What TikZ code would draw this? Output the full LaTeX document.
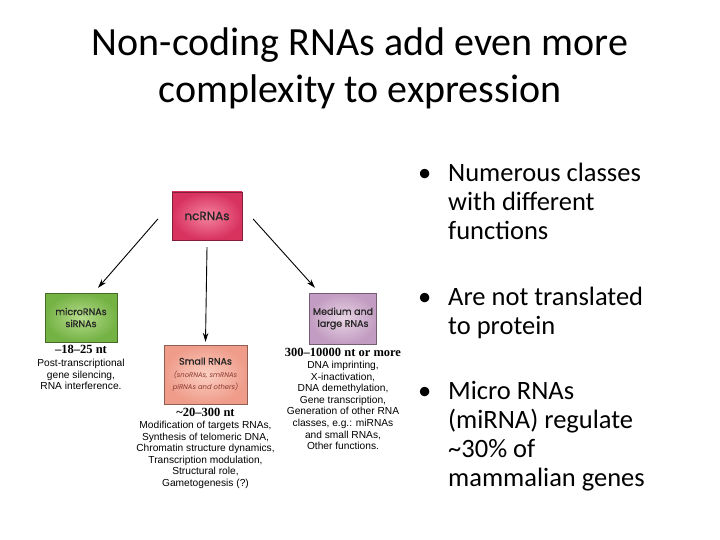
\documentclass[tikz,border=0pt]{standalone}
\usepackage{fontspec}
\setmainfont{Carlito}
\newfontfamily\boxfont[FakeBold=0.8]{Poppins}
\newfontfamily\boxitfont{Poppins}
\newfontfamily\descfont{Liberation Sans}
\newfontfamily\ntfont{Liberation Serif}
\usetikzlibrary{positioning,arrows.meta}
\definecolor{ncred}{HTML}{D8325F}
\definecolor{ncpink}{HTML}{F4849F}
\definecolor{migreen}{HTML}{74B244}
\definecolor{milight}{HTML}{B6DC8C}
\definecolor{smsalmon}{HTML}{EF9C8A}
\definecolor{smlight}{HTML}{FBCFC2}
\definecolor{mdpurple}{HTML}{C29CC2}
\definecolor{mdlight}{HTML}{E8D4E4}
\definecolor{smtext}{HTML}{8A3A30}
\newcommand\boxsmall{\boxitfont\fontsize{6.8}{8.5}\selectfont\itshape\color{smtext}}
\tikzset{
  rnabox/.style 2 args={rectangle,draw=#1!60!black,line width=0.3pt,inner color=#2,outer color=#1,
    align=center,font=\boxfont\fontsize{9.5}{12}\selectfont,text=black!85},
  arr/.style={-{Stealth[length=9pt,width=5.5pt]},line width=0.9pt},
  ntlabel/.style={font=\ntfont\bfseries\fontsize{12.5}{14}\selectfont,inner sep=0pt},
  desc/.style={font=\descfont\fontsize{10.2}{11.6}\selectfont,align=center,inner sep=0pt},
  bullettext/.style={font=\fontsize{26.5}{29}\selectfont,align=left,anchor=base west,inner sep=0pt}
}
\newcommand\bul{\makebox[0pt][r]{\textbullet\hspace{17pt}}}
\begin{document}
\begin{tikzpicture}[x=1pt,y=-1pt]
  \useasboundingbox[fill=white] (0,0) rectangle (720,540);

  % title (base = last line)
  \node[font=\fontsize{40}{47}\selectfont,align=center,anchor=base,inner sep=0pt] (title) at (360,103)
    {Non-coding RNAs add even more\\complexity to expression};

  % boxes
  \node[rnabox={ncred}{ncpink},minimum width=70pt,minimum height=48pt,font=\boxfont\fontsize{12}{14}\selectfont] (nc) at (207,216) {ncRNAs};
  \node[rnabox={migreen}{milight},minimum width=72pt,minimum height=49pt] (mi) at (81,317.5) {microRNAs\\siRNAs};
  \node[rnabox={smsalmon}{smlight},minimum width=83pt,minimum height=59pt] (sm) at (205.5,374.5)
    {Small RNAs\\[1pt]{\boxsmall (snoRNAs, smRNAs}\\{\boxsmall piRNAs and others)}};
  \node[rnabox={mdpurple}{mdlight},minimum width=64pt,minimum height=51pt] (md) at (343,318.5) {Medium and\\large RNAs};

  \draw[arr] ([xshift=-14pt,yshift=-3pt]nc.west) -- ([xshift=17pt,yshift=5pt]mi.north);
  \draw[arr] ([yshift=-7pt]nc.south) -- ([yshift=3pt]sm.north);
  \draw[arr] ([xshift=11pt,yshift=-3pt]nc.east) -- ([xshift=-28pt,yshift=5pt]md.north);

  % labels under the boxes
  \node[ntlabel,below=3pt of mi] (mint) {\textendash18\textendash25 nt};
  \node[desc,below=5pt of mint] (midesc) {Post-transcriptional\\gene silencing,\\RNA interference.};
  \node[ntlabel,below=4pt of sm] (smnt) {\textasciitilde20\textendash300 nt};
  \node[desc,below=4pt of smnt] (smdesc) {Modification of targets RNAs,\\Synthesis of telomeric DNA,\\Chromatin structure dynamics,\\Transcription modulation,\\Structural role,\\Gametogenesis (?)};
  \node[ntlabel,below=4pt of md] (mdnt) {300\textendash10000 nt or more};
  \node[desc,below=4pt of mdnt] (mddesc) {DNA imprinting,\\X-inactivation,\\DNA demethylation,\\Gene transcription,\\Generation of other RNA\\classes, e.g.: miRNAs\\and small RNAs,\\Other functions.};

  % bullets (base = last line)
  \node[bullettext] (b1) at (448,240) {\bul Numerous classes\\with different\\functions};
  \node[bullettext] (b2) at (448,334) {\bul Are not translated\\to protein};
  \node[bullettext] (b3) at (448,486) {\bul Micro RNAs\\(miRNA) regulate\\\textasciitilde30\% of\\mammalian genes};
\end{tikzpicture}
\end{document}
